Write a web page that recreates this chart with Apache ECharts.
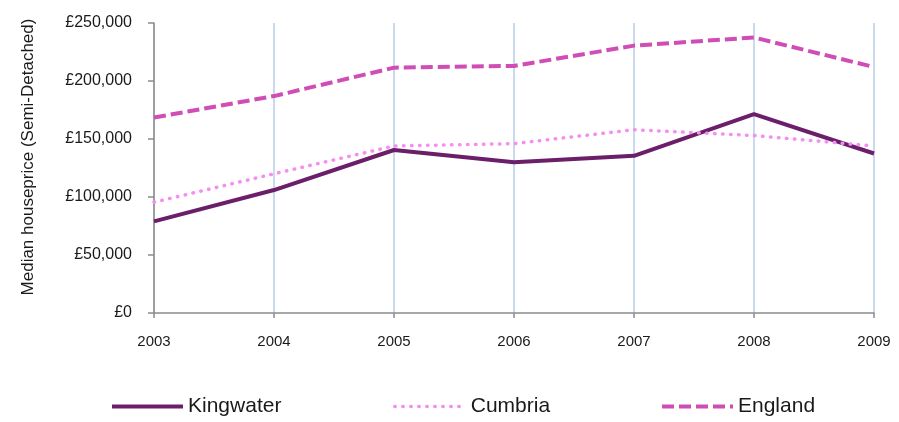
<!DOCTYPE html>
<html>
<head>
<meta charset="utf-8">
<script src="https://cdn.jsdelivr.net/npm/echarts@6/dist/echarts.min.js"></script>
<style>html,body{margin:0;padding:0;background:#fff}#c{width:899px;height:422px}</style>
</head>
<body>
<div id="c"></div>
<script>
const years = ['2003','2004','2005','2006','2007','2008','2009'];
const kingwater = [79000, 106000, 140500, 130000, 135500, 171500, 137500];
const cumbria = [95500, 120000, 144000, 146000, 158000, 153000, 144000];
const england = [168500, 187000, 211500, 213000, 230500, 237500, 212000];
const yTicks = [0, 50000, 100000, 150000, 200000, 250000];

const font = 'Liberation Sans, Arial, sans-serif';
const chart = echarts.init(document.getElementById('c'));
const fmt = v => '£' + v.toLocaleString('en-GB');
const styles = {
  Kingwater: {color: '#6b1f6b', width: 4, type: 'solid', cap: 'butt'},
  Cumbria: {color: '#f58ef0', width: 3.5, type: [0.5, 7.5], cap: 'round'},
  England: {color: '#d04db6', width: 4, type: [12, 5], cap: 'butt'}
};
const legendLeft = {Kingwater: 110, Cumbria: 393, England: 660};
chart.setOption({
  animation: false,
  backgroundColor: '#fff',
  grid: {left: 154, right: 25, top: 23, bottom: 109, containLabel: false},
  xAxis: {
    type: 'category', data: years, boundaryGap: false,
    axisLine: {lineStyle: {color: '#8c8c8c', width: 1.5}},
    axisTick: {show: true, length: 5, lineStyle: {color: '#8c8c8c', width: 1.5}},
    axisLabel: {color: '#1a1a1a', fontSize: 15, fontFamily: font, margin: 21},
    splitLine: {show: true, lineStyle: {color: '#b8cde4', width: 1.5}}
  },
  yAxis: {
    type: 'value', min: yTicks[0], max: yTicks[yTicks.length-1], interval: 50000,
    name: 'Median houseprice (Semi-Detached)', nameLocation: 'middle', nameGap: 117,
    nameRotate: 90,
    nameTextStyle: {color: '#1a1a1a', fontSize: 17, fontFamily: font, padding: [0,0,0,22]},
    axisLine: {show: true, lineStyle: {color: '#8c8c8c', width: 1.5}},
    axisTick: {show: true, length: 6, lineStyle: {color: '#8c8c8c', width: 1.5}},
    axisLabel: {color: '#1a1a1a', fontSize: 16, fontFamily: font, margin: 22, formatter: fmt},
    splitLine: {show: false}
  },
  legend: Object.keys(styles).map(n => ({
    data: [n], left: legendLeft[n], top: 396, padding: 0,
    itemWidth: 71, itemHeight: 14, itemGap: 5,
    itemStyle: {opacity: 0, color: 'transparent', borderWidth: 0},
    lineStyle: {color: styles[n].color, width: styles[n].width, type: styles[n].type, cap: styles[n].cap},
    textStyle: {color: '#1a1a1a', fontSize: 21, fontFamily: font}
  })),
  series: [
    {name: 'Kingwater', data: kingwater},
    {name: 'Cumbria', data: cumbria},
    {name: 'England', data: england}
  ].map(s => ({
    name: s.name, type: 'line', data: s.data, symbol: 'none', color: styles[s.name].color,
    lineStyle: Object.assign({}, styles[s.name])
  }))
});
</script>
</body>
</html>
